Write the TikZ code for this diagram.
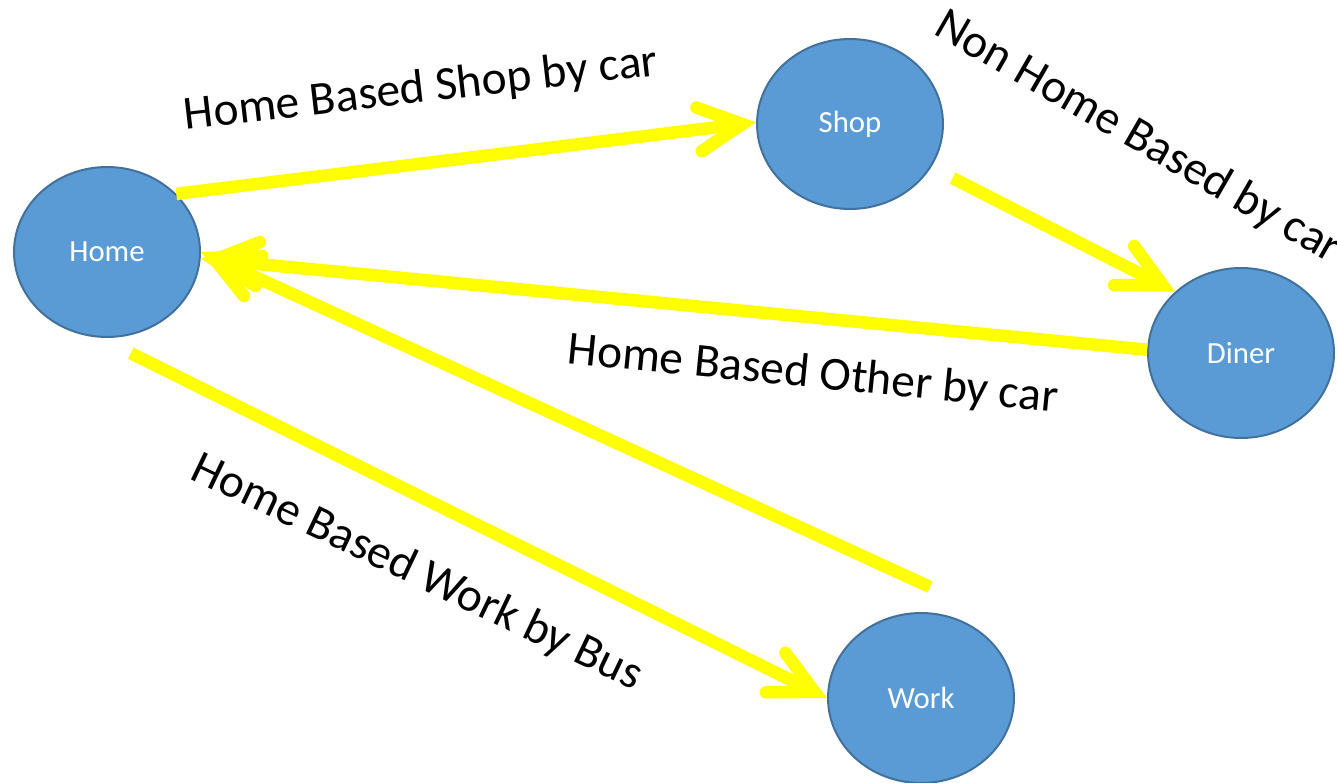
\documentclass[tikz,border=0pt]{standalone}
\usepackage{fontspec}
\setmainfont{Carlito}
\usetikzlibrary{arrows.meta,shapes.geometric}

\begin{document}
\begin{tikzpicture}[x=0.02cm,y=-0.02cm,
	place/.style={ellipse,draw=placeborder,fill=placeblue,line width=0.04cm,
		minimum width=3.72cm,minimum height=3.4cm,inner sep=0pt,
		text=white,font=\fontsize{17.5}{21}\selectfont},
	trip/.style={draw=tripyellow,line width=0.25cm,
		-{Straight Barb[length=0.87cm,width=0.88cm,line cap=round]}},
	triptext/.style={font=\fontsize{27}{32}\selectfont,inner sep=0pt}]
	\definecolor{placeblue}{RGB}{91,155,213}
	\definecolor{placeborder}{RGB}{65,113,156}
	\definecolor{tripyellow}{RGB}{255,255,0}

	\useasboundingbox (0,0) rectangle (1337,783);

	\node (home) [place] at (107,252) {Home};
	\node (shop) [place] at (850,124) {Shop};
	\node (diner) [place] at (1241,353) {Diner};
	\node (work) [place] at (921,698) {Work};

	\draw[trip] (home.40) -- (shop.179);
	\draw[trip,shorten <=0.48cm] (shop.-28) -- (diner.137);
	\draw[trip] (diner.178) -- (home.-4);
	\draw[trip] ([shift={(9,-25)}]work.north) -- (home.east);
	\draw[trip,shorten <=0.7cm] (home.-95) -- (work.180);

	\node (shoptext) [triptext,rotate=6.6] at (421,90) {Home Based Shop by car};
	\node (nontext) [triptext,rotate=-30] at (1138,138) {Non Home Based by car};
	\node (othertext) [triptext,rotate=-5.7] at (813,375) {Home Based Other by car};
	\node (worktext) [triptext,rotate=-25.5] at (417,573) {Home Based Work by Bus};
\end{tikzpicture}
\end{document}
